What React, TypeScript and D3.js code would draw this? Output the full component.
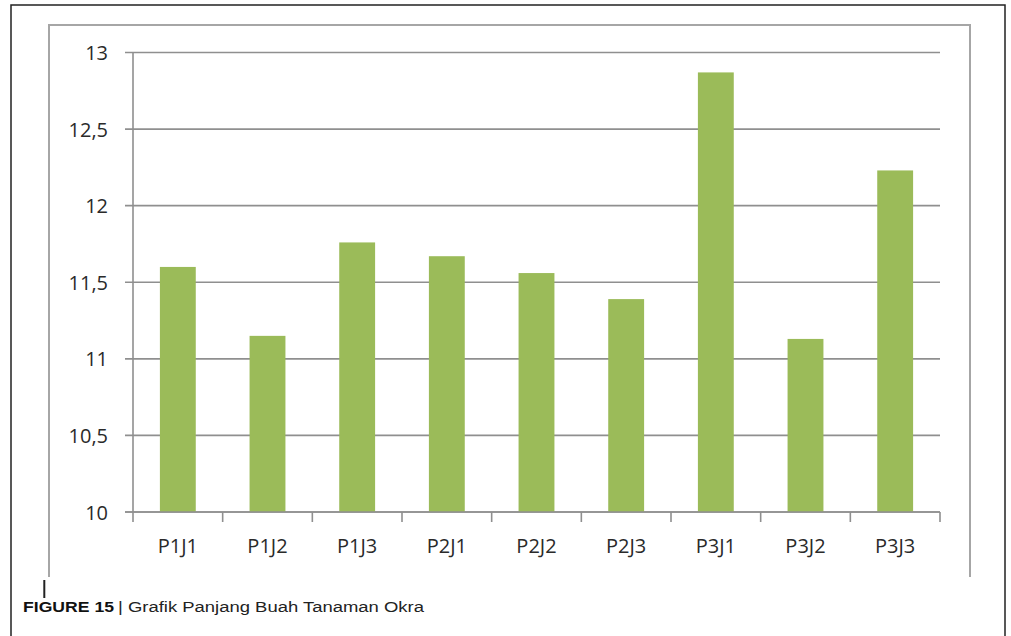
import React from "react";
import * as d3 from "d3";

const categories = ["P1J1", "P1J2", "P1J3", "P2J1", "P2J2", "P2J3", "P3J1", "P3J2", "P3J3"];
const values = [11.6, 11.15, 11.76, 11.67, 11.56, 11.39, 12.87, 11.13, 12.23];
const yTicks = [10, 10.5, 11, 11.5, 12, 12.5, 13];
const captionBold = "FIGURE 15";
const captionText = "| Grafik Panjang Buah Tanaman Okra";

const W = 1011;
const H = 636;

export default function App() {
  const x = d3.scaleBand<string>().domain(categories).range([133, 940]).paddingInner(0.6).paddingOuter(0.3);
  const y = d3.scaleLinear().domain([10, 13]).range([512, 52.5]);
  const fmt = (v: number) => d3.format("~g")(v).replace(".", ",");
  const step = x.step();
  const boundaries = d3.range(categories.length + 1).map((i) => 133 + i * step);
  const font = "'Open Sans', sans-serif";
  const grid = "#8f8f8f";

  return (
    <svg width={W} height={H} style={{ position: "absolute", left: 0, top: 0, background: "#fff" }}>
      <rect x={0} y={0} width={W} height={H} fill="#fff" />
      {/* outer border */}
      <path d={`M11,${H} V5 H1005 V${H}`} fill="none" stroke="#222" strokeWidth={1.5} />
      {/* inner chart frame */}
      <path d="M49,577 V25 H970 V577" fill="none" stroke="#a6a6a6" strokeWidth={2} />
      {/* gridlines */}
      {yTicks.map((t) => (
        <g key={t}>
          <line x1={125} x2={940} y1={y(t)} y2={y(t)} stroke={grid} strokeWidth={1.6} />
          <text x={108} y={y(t) + 7.5} textAnchor="end" fontFamily={font} fontSize={20} fill="#2a2a2a">
            {fmt(t)}
          </text>
        </g>
      ))}
      {/* bars */}
      {categories.map((c, i) => (
        <rect key={c} x={x(c)} y={y(values[i])} width={x.bandwidth()} height={y(10) - y(values[i])} fill="#9bbb59" />
      ))}
      {/* y axis */}
      <line x1={133} x2={133} y1={y(13)} y2={y(10)} stroke={grid} strokeWidth={1.6} />
      {/* x axis */}
      <line x1={125} x2={940} y1={y(10)} y2={y(10)} stroke={grid} strokeWidth={1.6} />
      {boundaries.map((b, i) => (
        <line key={i} x1={b} x2={b} y1={y(10)} y2={y(10) + 10} stroke={grid} strokeWidth={1.6} />
      ))}
      {categories.map((c) => (
        <text key={c} x={(x(c) as number) + x.bandwidth() / 2} y={553} textAnchor="middle" fontFamily={font} fontSize={20} fill="#2a2a2a">
          {c}
        </text>
      ))}
      {/* small mark */}
      <line x1={44.3} x2={44.3} y1={580} y2={598} stroke="#222" strokeWidth={2} />
      {/* caption */}
      <text x={23} y={612} fontFamily="'Liberation Sans', Arial, sans-serif" fontSize={15.5} fontWeight="bold" fill="#111" textLength={91} lengthAdjust="spacingAndGlyphs">
        {captionBold}
      </text>
      <text x={118} y={612} fontFamily="'Liberation Sans', Arial, sans-serif" fontSize={15.5} fill="#222" textLength={306} lengthAdjust="spacingAndGlyphs">
        {captionText}
      </text>
    </svg>
  );
}
